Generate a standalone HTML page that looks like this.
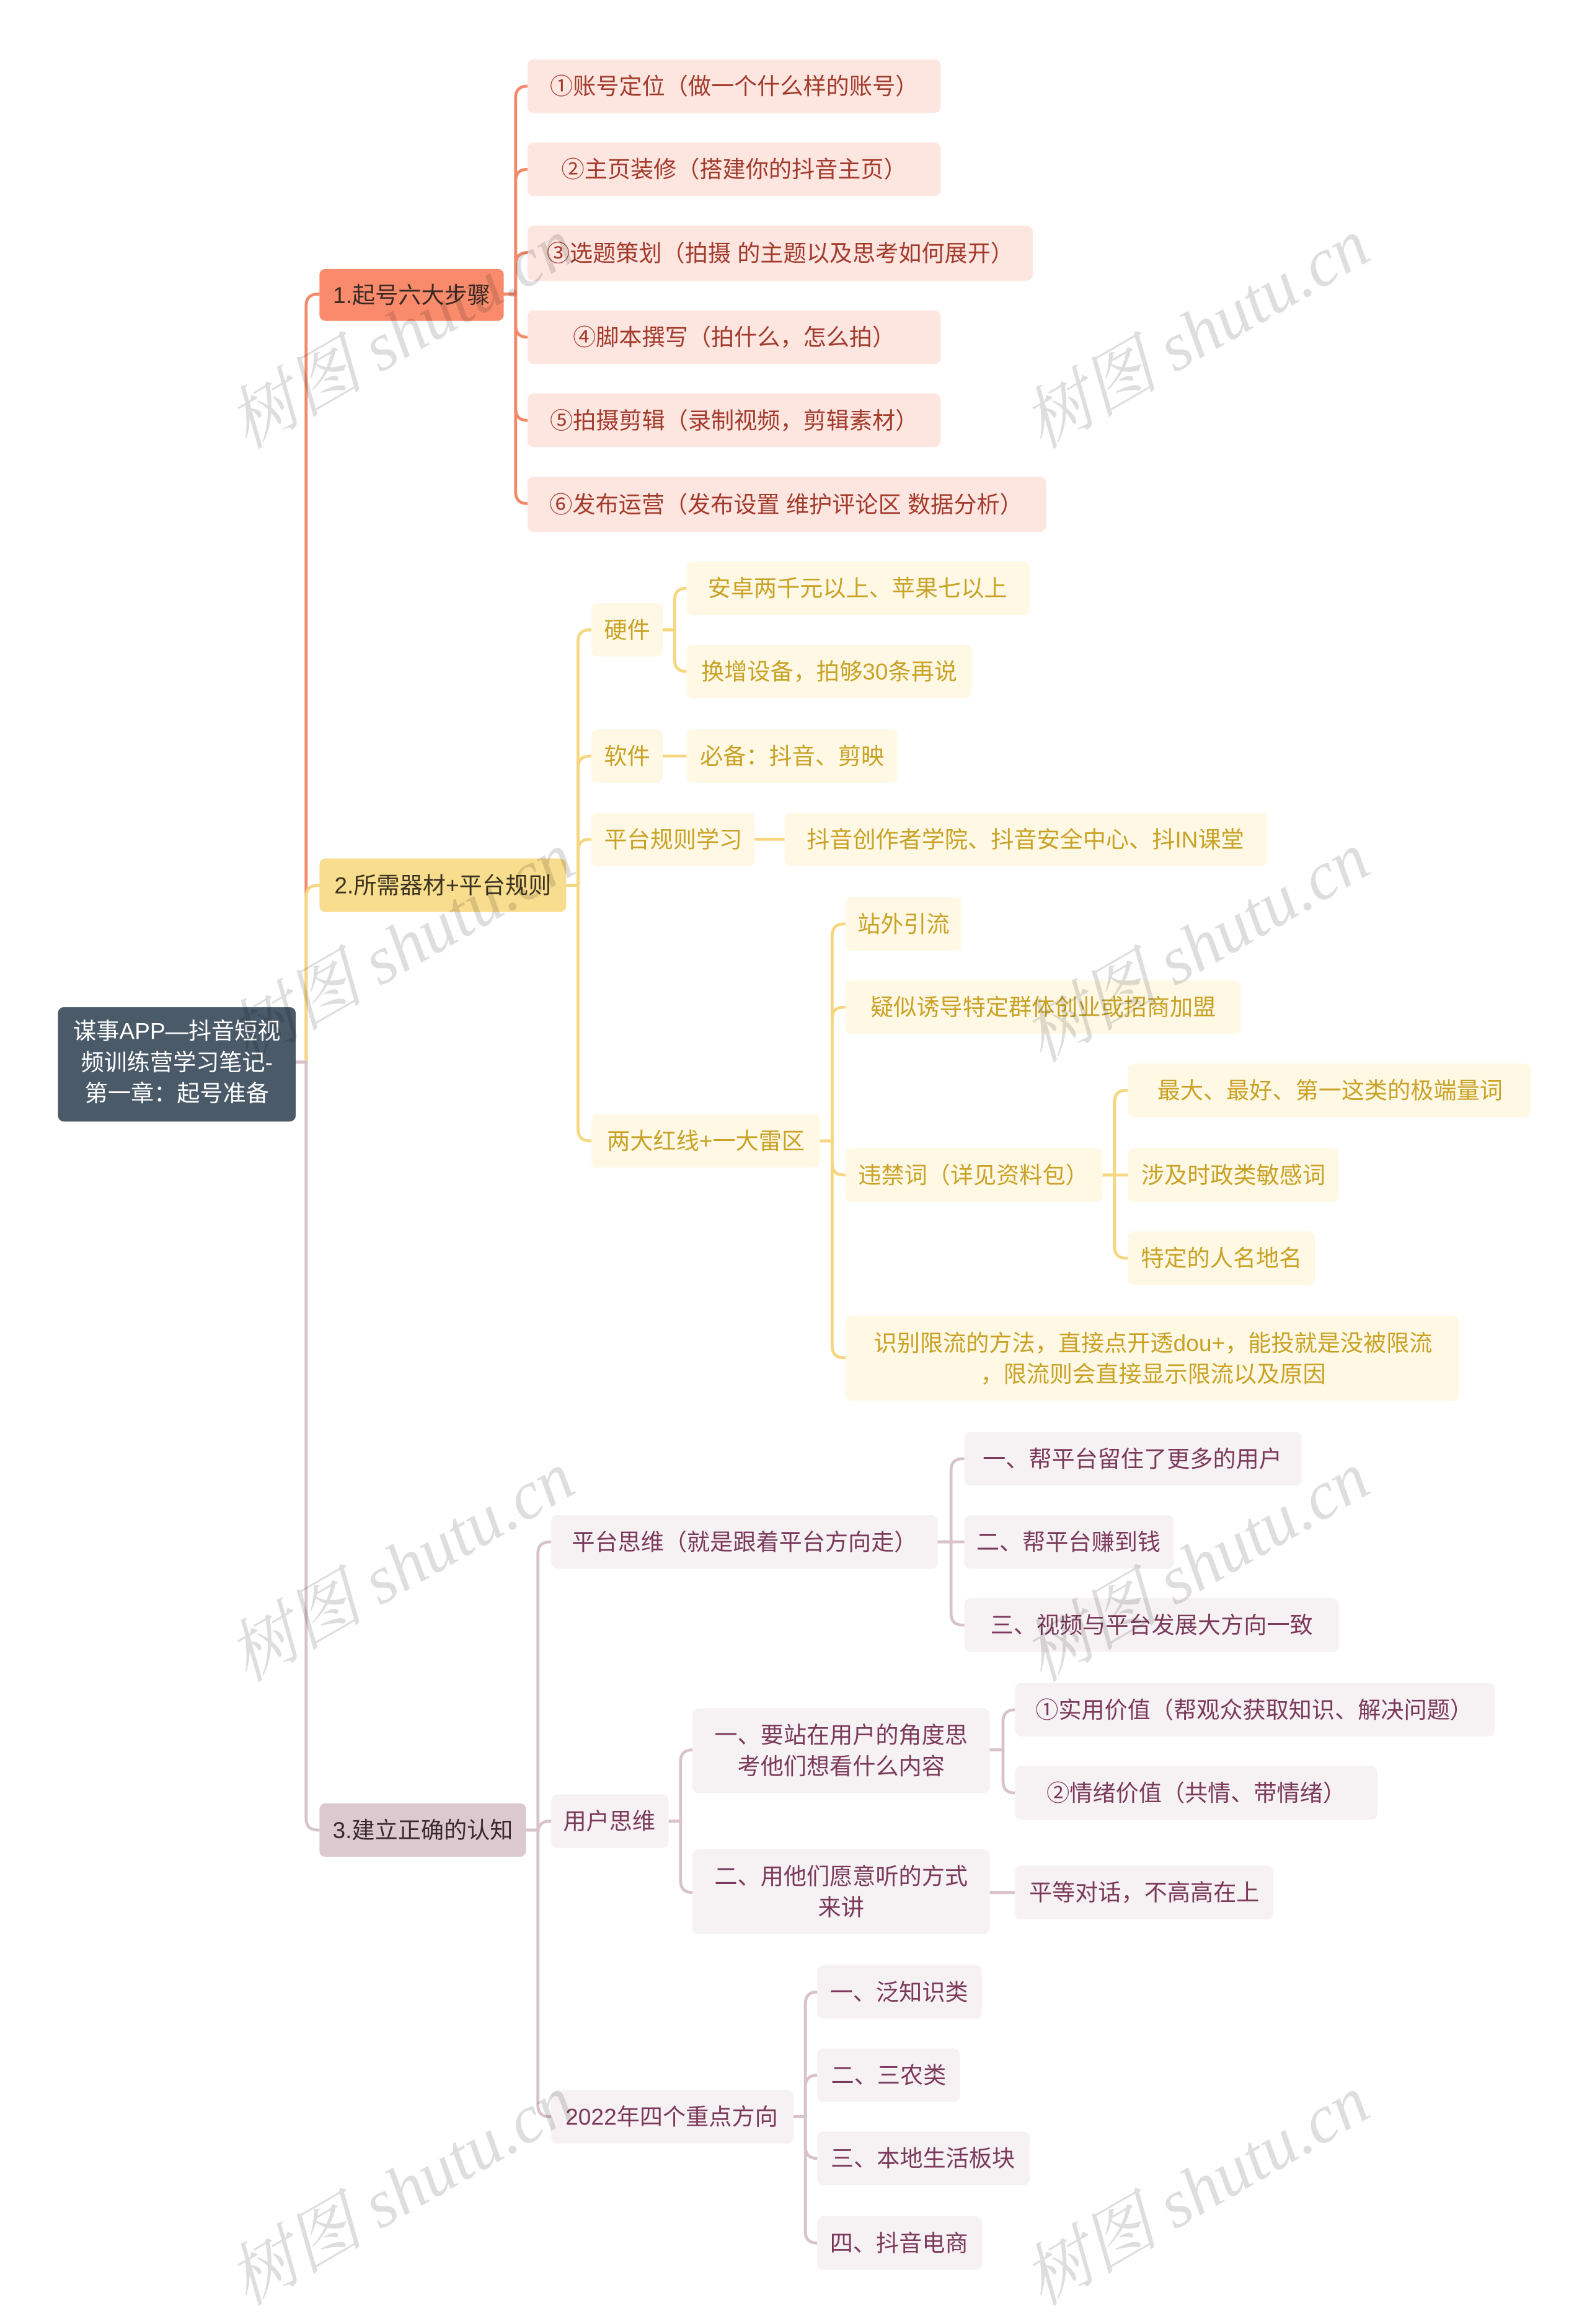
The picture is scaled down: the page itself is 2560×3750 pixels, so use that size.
<!DOCTYPE html>
<html><head><meta charset="utf-8"><style>
html,body{margin:0;padding:0;background:#fff;}
svg{display:block;}
text{font-family:"Liberation Sans","Noto Sans CJK SC",sans-serif;font-size:15.5px;dominant-baseline:central;text-anchor:middle;}
.wm{font-family:"Liberation Serif","Noto Serif CJK SC",serif;font-size:46px;fill:#000;fill-opacity:0.13;font-style:italic;text-anchor:middle;}
</style></head><body>
<svg width="2560" height="3750" viewBox="0 0 1068 1564.5" preserveAspectRatio="none" xmlns="http://www.w3.org/2000/svg">
<rect width="1068" height="1565" fill="#fff"/>
<g fill="none" stroke-width="2">
<path stroke="#f4896a" d="M198 715H206V206Q206 198 214 198H215"/>
<path stroke="#f6d77f" d="M198 715H206V604Q206 596 214 596H215"/>
<path stroke="#d9c3cb" d="M198 715H206V1224Q206 1232 214 1232H215"/>
<g stroke="#f4896a">
<path d="M339 198H347V66Q347 58 355 58"/>
<path d="M339 198H347V122Q347 114 355 114"/>
<path d="M339 198H347V178Q347 170 355 170"/>
<path d="M339 198H347V219Q347 227 355 227"/>
<path d="M339 198H347V275Q347 283 355 283"/>
<path d="M339 198H347V331Q347 339 355 339"/>
</g>
<g stroke="#f6d77f">
<path d="M381 596H389V432Q389 424 397 424H398"/>
<path d="M381 596H389V517Q389 509 397 509H398"/>
<path d="M381 596H389V573Q389 565 397 565H398"/>
<path d="M381 596H389V760Q389 768 397 768H398"/>
<path d="M446 424H454V404Q454 396 462 396"/>
<path d="M446 424H454V444Q454 452 462 452"/>
<path d="M446 509H462"/>
<path d="M508 565H528"/>
<path d="M552 768H560V630Q560 622 568 622H569"/>
<path d="M552 768H560V686Q560 678 568 678H569"/>
<path d="M552 768H560V783Q560 791 568 791H569"/>
<path d="M552 768H560V906Q560 914 568 914H569"/>
<path d="M742 791H750V742Q750 734 758 734H759"/>
<path d="M742 791H759"/>
<path d="M742 791H750V839Q750 847 758 847H759"/>
</g>
<g stroke="#d9c3cb">
<path d="M354 1232H362V1046Q362 1038 370 1038H371"/>
<path d="M354 1232H362V1234Q362 1226 370 1226H371"/>
<path d="M354 1232H362V1417Q362 1425 370 1425H371"/>
<path d="M631 1038H640V990Q640 982 648 982H649"/>
<path d="M631 1038H649"/>
<path d="M631 1038H640V1086Q640 1094 648 1094H649"/>
<path d="M450 1226H458V1186Q458 1178 466 1178"/>
<path d="M450 1226H458V1266Q458 1274 466 1274"/>
<path d="M666 1178H675V1159Q675 1151 683 1151"/>
<path d="M666 1178H675V1199Q675 1207 683 1207"/>
<path d="M666 1274H683"/>
<path d="M534 1425H542V1349Q542 1341 550 1341"/>
<path d="M534 1425H542V1405Q542 1397 550 1397"/>
<path d="M534 1425H542V1445Q542 1453 550 1453"/>
<path d="M534 1425H542V1502Q542 1510 550 1510"/>
</g>
</g>

<rect x="39" y="678" width="160" height="77" rx="4" fill="#4a5a69"/>
<g fill="#fff"><text x="119" y="694">谋事APP—抖音短视</text><text x="119" y="715">频训练营学习笔记-</text><text x="119" y="736">第一章：起号准备</text></g>

<rect x="215" y="181" width="124" height="35" rx="4" fill="#f98b6c"/>
<text x="277" y="198.5" fill="#3a2a24">1.起号六大步骤</text>
<g fill="#fde5e0">
<rect x="355" y="40" width="278" height="36" rx="4"/>
<rect x="355" y="96" width="278" height="36" rx="4"/>
<rect x="355" y="152" width="340" height="37" rx="4"/>
<rect x="355" y="209" width="278" height="36" rx="4"/>
<rect x="355" y="265" width="278" height="36" rx="4"/>
<rect x="355" y="321" width="349" height="37" rx="4"/>
</g>
<g fill="#a23b2c">
<text x="494" y="58">①账号定位（做一个什么样的账号）</text>
<text x="494" y="114">②主页装修（搭建你的抖音主页）</text>
<text x="525" y="170.5">③选题策划（拍摄 的主题以及思考如何展开）</text>
<text x="494" y="227">④脚本撰写（拍什么，怎么拍）</text>
<text x="494" y="283">⑤拍摄剪辑（录制视频，剪辑素材）</text>
<text x="529" y="339.5">⑥发布运营（发布设置 维护评论区 数据分析）</text>
</g>

<rect x="215" y="578" width="166" height="36" rx="4" fill="#f8dd8e"/>
<text x="298" y="596" fill="#3a3320">2.所需器材+平台规则</text>
<g fill="#fef8e5">
<rect x="398" y="406" width="48" height="36" rx="4"/>
<rect x="462" y="378" width="231" height="36" rx="4"/>
<rect x="462" y="434" width="192" height="36" rx="4"/>
<rect x="398" y="491" width="48" height="36" rx="4"/>
<rect x="462" y="491" width="142" height="36" rx="4"/>
<rect x="398" y="547" width="110" height="36" rx="4"/>
<rect x="528" y="547" width="325" height="36" rx="4"/>
<rect x="398" y="750" width="154" height="36" rx="4"/>
<rect x="569" y="604" width="78" height="36" rx="4"/>
<rect x="569" y="660" width="266" height="36" rx="4"/>
<rect x="569" y="773" width="173" height="36" rx="4"/>
<rect x="759" y="716" width="271" height="36" rx="4"/>
<rect x="759" y="773" width="142" height="36" rx="4"/>
<rect x="759" y="829" width="126" height="36" rx="4"/>
<rect x="569" y="886" width="413" height="57" rx="4"/>
</g>
<g fill="#c9a226">
<text x="422" y="424">硬件</text>
<text x="577" y="396">安卓两千元以上、苹果七以上</text>
<text x="558" y="452">换增设备，拍够30条再说</text>
<text x="422" y="509">软件</text>
<text x="533" y="509">必备：抖音、剪映</text>
<text x="453" y="565">平台规则学习</text>
<text x="690" y="565">抖音创作者学院、抖音安全中心、抖IN课堂</text>
<text x="475" y="768">两大红线+一大雷区</text>
<text x="608" y="622">站外引流</text>
<text x="702" y="678">疑似诱导特定群体创业或招商加盟</text>
<text x="655" y="791">违禁词（详见资料包）</text>
<text x="895" y="734">最大、最好、第一这类的极端量词</text>
<text x="830" y="791">涉及时政类敏感词</text>
<text x="822" y="847">特定的人名地名</text>
<text x="776" y="904">识别限流的方法，直接点开透dou+，能投就是没被限流</text>
<text x="776" y="925">，限流则会直接显示限流以及原因</text>
</g>

<rect x="215" y="1214" width="139" height="36" rx="4" fill="#dcc9d0"/>
<text x="284.5" y="1232" fill="#3a2a30">3.建立正确的认知</text>
<g fill="#f6f1f3">
<rect x="371" y="1020" width="260" height="36" rx="4"/>
<rect x="649" y="964" width="227" height="36" rx="4"/>
<rect x="649" y="1020" width="141" height="36" rx="4"/>
<rect x="649" y="1076" width="252" height="36" rx="4"/>
<rect x="371" y="1208" width="79" height="36" rx="4"/>
<rect x="466" y="1150" width="200" height="57" rx="4"/>
<rect x="683" y="1133" width="323" height="36" rx="4"/>
<rect x="683" y="1189" width="244" height="36" rx="4"/>
<rect x="466" y="1245" width="200" height="57" rx="4"/>
<rect x="683" y="1256" width="174" height="36" rx="4"/>
<rect x="371" y="1407" width="163" height="36" rx="4"/>
<rect x="550" y="1323" width="111" height="36" rx="4"/>
<rect x="550" y="1379" width="96" height="36" rx="4"/>
<rect x="550" y="1435" width="143" height="36" rx="4"/>
<rect x="550" y="1492" width="111" height="36" rx="4"/>
</g>
<g fill="#7b3a5b">
<text x="501" y="1038">平台思维（就是跟着平台方向走）</text>
<text x="762" y="982">一、帮平台留住了更多的用户</text>
<text x="719" y="1038">二、帮平台赚到钱</text>
<text x="775" y="1094">三、视频与平台发展大方向一致</text>
<text x="410" y="1226">用户思维</text>
<text x="566" y="1168">一、要站在用户的角度思</text>
<text x="566" y="1189">考他们想看什么内容</text>
<text x="844" y="1151">①实用价值（帮观众获取知识、解决问题）</text>
<text x="805" y="1207">②情绪价值（共情、带情绪）</text>
<text x="566" y="1263">二、用他们愿意听的方式</text>
<text x="566" y="1284">来讲</text>
<text x="770" y="1274">平等对话，不高高在上</text>
<text x="452" y="1425">2022年四个重点方向</text>
<text x="605" y="1341">一、泛知识类</text>
<text x="598" y="1397">二、三农类</text>
<text x="621" y="1453">三、本地生活板块</text>
<text x="605" y="1510">四、抖音电商</text>
</g>

<g>
<text class="wm" transform="translate(270,225) rotate(-30)">树图 shutu.cn</text>
<text class="wm" transform="translate(805,225) rotate(-30)">树图 shutu.cn</text>
<text class="wm" transform="translate(270,638) rotate(-30)">树图 shutu.cn</text>
<text class="wm" transform="translate(805,638) rotate(-30)">树图 shutu.cn</text>
<text class="wm" transform="translate(270,1055) rotate(-30)">树图 shutu.cn</text>
<text class="wm" transform="translate(805,1055) rotate(-30)">树图 shutu.cn</text>
<text class="wm" transform="translate(270,1475) rotate(-30)">树图 shutu.cn</text>
<text class="wm" transform="translate(805,1475) rotate(-30)">树图 shutu.cn</text>
</g>
</svg>
</body></html>
